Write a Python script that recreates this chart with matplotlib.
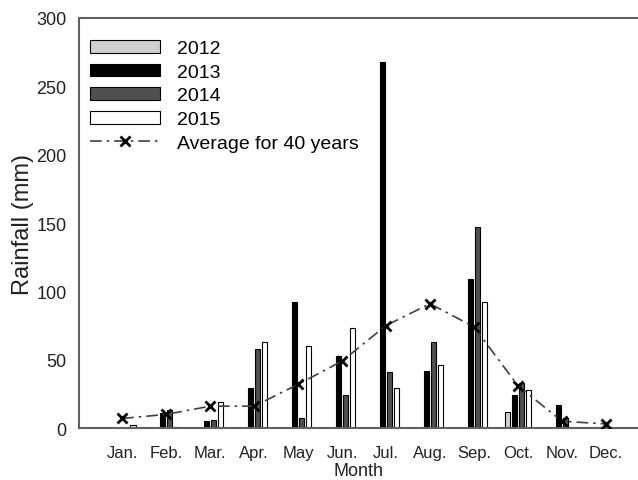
import numpy as np
import matplotlib
matplotlib.use("Agg")
from matplotlib import pyplot as plt

plt.rcParams['font.family'] = ['Liberation Sans', 'DejaVu Sans']

# monthly rainfall (mm)
months = ['Jan.', 'Feb.', 'Mar.', 'Apr.', 'May', 'Jun.', 'Jul.', 'Aug.', 'Sep.', 'Oct.', 'Nov.', 'Dec.']
rain_2012 = [0, 0, 0, 0, 0, 0, 0, 0, 0, 12, 1, 1]
rain_2013 = [0, 11, 5, 29, 92, 53, 268, 42, 109, 24, 17, 0]
rain_2014 = [0, 13, 6, 58, 7, 24, 41, 63, 147, 33, 7, 0]
rain_2015 = [2, 1, 19, 63, 60, 73, 29, 46, 92, 28, 0, 0]
avg_40yr = [7, 10, 16, 16, 32, 49, 75, 91, 74, 31, 5, 3]

x = np.arange(len(months))
w = 0.125
step = 0.16

fig = plt.figure(figsize=(6.38, 4.81), dpi=100)
ax = fig.add_axes([0.124, 0.108, 0.876, 0.8525])

series = [(rain_2012, '#d0d0d0', '2012'),
          (rain_2013, 'black', '2013'),
          (rain_2014, '#505050', '2014'),
          (rain_2015, 'white', '2015')]
for i, (vals, col, lab) in enumerate(series):
    ax.bar(x + (i - 1.5) * step, vals, width=w, color=col, edgecolor='black',
           linewidth=0.8, label=lab, zorder=2)

ax.plot(x, avg_40yr, color='#404040', linestyle=(0, (7, 3, 1.5, 3)), linewidth=1.2,
        marker='x', markersize=7, markeredgewidth=2, markeredgecolor='black',
        label='Average for 40 years', zorder=3)

ax.set_xlim(-0.98, 11.73)
ax.set_ylim(0, 300)
ax.set_xticks(x)
ax.set_xticklabels(months)
ax.set_yticks(np.arange(0, 301, 50))
ax.tick_params(length=0, colors='#222222')
ax.tick_params(axis='x', labelsize=12, pad=12)
ax.tick_params(axis='y', labelsize=13, pad=9)
ax.set_xlabel('Month', fontsize=13, labelpad=2, color='#222222')
ax.set_ylabel('Rainfall (mm)', fontsize=17, labelpad=2, color='#222222')

for s in ['left', 'bottom', 'top']:
    ax.spines[s].set_color('#606060')
    ax.spines[s].set_linewidth(1.5)
ax.spines['right'].set_visible(False)

handles, labels = ax.get_legend_handles_labels()
order = [1, 2, 3, 4, 0]
ax.legend([handles[k] for k in order], [labels[k] for k in order],
          loc='upper left', frameon=False, fontsize=14, handlelength=3.6,
          handleheight=0.62, labelspacing=0.33, handletextpad=0.85,
          bbox_to_anchor=(-0.004, 0.979), borderaxespad=0.3)

fig.savefig('out.png', dpi=100)
